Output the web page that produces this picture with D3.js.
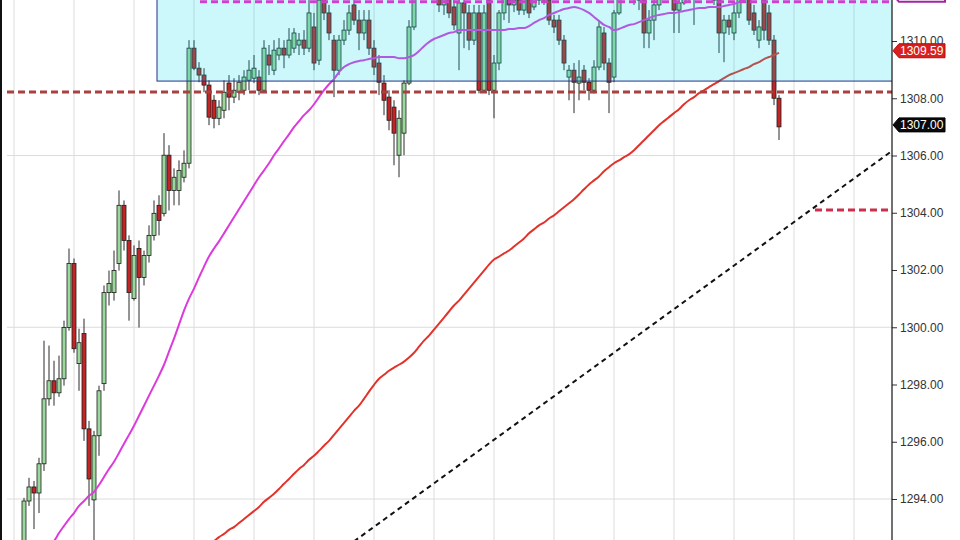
<!DOCTYPE html>
<html><head><meta charset="utf-8">
<script src="https://cdn.jsdelivr.net/npm/d3@7/dist/d3.min.js"></script>
<style>html,body{margin:0;padding:0;background:#fff;overflow:hidden}svg{display:block}</style>
</head><body>
<svg id="chart" width="960" height="540"></svg>
<script>
// ---------- data (prices) ----------
const firstBar = 2;
const open = [
1292.36,1293.93,1294.42,1294.21,1295.23,1297.50,1298.13,1297.71,1298.20,1299.99,
1302.23,1298.73,1299.78,1296.45,1293.97,1296.21,1298.03,1301.21,1301.21,1302.23,
1304.26,1303.03,1301.00,1302.75,1301.74,1302.51,1303.21,1304.26,1303.98,1306.01,
1304.78,1304.78,1305.24,1305.73,1309.75,1309.05,1308.81,1308.46,1307.93,1307.30,
1307.58,1308.53,1308.04,1308.21,1308.28,1308.63,1308.70,1308.74,1308.28,1309.51,
1308.98,1309.51,1309.75,1309.51,1309.75,1309.86,1310.03,1309.75,1310.49,1309.33,
1311.61,1310.98,1310.03,1308.98,1310.03,1310.38,1311.26,1310.73,1310.28,1310.73,
1309.75,1309.23,1308.53,1308.04,1307.69,1306.01,1306.78,1308.53,1310.49,1311.78,
1312.48,1312.13,1312.66,1311.61,1311.26,1311.61,1311.19,1310.28,1311.33,1310.98,
1310.03,1310.98,1308.28,1311.43,1308.28,1309.23,1310.98,1311.61,1311.26,1311.43,
1311.08,1311.61,1311.19,1311.43,1311.96,1311.43,1310.73,1310.73,1310.03,1308.74,
1308.98,1308.53,1308.98,1308.56,1308.28,1309.09,1310.28,1309.23,1308.74,1310.98,
1311.78,1311.61,1312.13,1311.61,1311.43,1310.28,1310.73,1311.26,1311.78,1311.61,
1311.61,1311.08,1311.33,1311.78,1311.61,1311.96,1311.71,1312.13,1311.78,1311.43,
1310.28,1310.73,1310.28,1310.98,1311.54,1311.61,1310.98,1310.03,1311.43,1310.98,
1310.03,1308.00];
const high = [
1294.04,1294.74,1294.63,1295.44,1299.53,1299.36,1298.83,1299.01,1300.23,1302.75,
1302.40,1299.95,1300.30,1296.73,1296.38,1297.96,1301.46,1301.98,1302.68,1304.78,
1304.43,1303.21,1302.86,1303.03,1302.68,1303.56,1304.43,1304.61,1306.78,1306.36,
1305.55,1305.83,1306.18,1310.03,1310.03,1309.26,1309.05,1308.63,1308.11,1307.93,
1308.63,1308.81,1308.70,1308.81,1308.98,1309.33,1309.51,1308.98,1310.03,1309.86,
1310.03,1310.10,1310.03,1310.45,1310.45,1310.28,1310.38,1311.43,1310.98,1311.78,
1311.96,1311.26,1310.21,1310.21,1310.73,1311.26,1311.61,1311.08,1311.08,1311.08,
1310.03,1309.51,1308.81,1308.28,1307.93,1307.58,1308.63,1310.73,1312.13,1312.83,
1312.83,1313.01,1312.83,1311.96,1311.96,1311.78,1311.43,1311.61,1311.61,1311.26,
1311.26,1311.26,1311.26,1311.61,1309.51,1311.08,1311.78,1311.96,1311.78,1311.78,
1311.96,1311.78,1311.78,1312.31,1312.31,1311.78,1310.91,1310.91,1310.21,1309.16,
1309.23,1309.33,1309.16,1308.70,1309.33,1310.73,1310.49,1309.40,1311.08,1312.13,
1312.31,1312.48,1312.48,1311.96,1311.61,1311.08,1311.43,1312.13,1312.13,1312.31,
1311.96,1311.61,1311.96,1312.13,1312.31,1312.31,1312.48,1312.48,1311.96,1311.78,
1310.91,1310.91,1311.26,1311.96,1312.31,1311.96,1311.26,1310.73,1311.78,1311.26,
1310.21,1308.11];
const low = [
1292.18,1293.76,1292.95,1293.51,1294.98,1297.26,1297.26,1297.57,1297.96,1299.88,
1299.11,1297.78,1296.03,1293.76,1292.36,1295.51,1297.78,1300.76,1300.93,1301.98,
1302.68,1300.23,1300.93,1299.99,1301.46,1302.26,1303.03,1303.21,1303.87,1304.08,
1304.26,1304.26,1305.06,1305.55,1308.98,1308.56,1308.21,1307.06,1306.95,1307.06,
1307.30,1307.58,1307.83,1307.93,1308.11,1308.28,1308.53,1308.11,1308.21,1308.81,
1308.81,1309.33,1309.05,1309.40,1309.58,1309.51,1309.51,1309.61,1308.98,1309.16,
1310.73,1310.03,1308.04,1308.81,1309.86,1310.21,1310.56,1309.68,1310.03,1309.51,
1308.81,1308.11,1307.41,1306.88,1305.66,1305.24,1306.01,1308.46,1310.38,1311.61,
1311.78,1311.96,1311.43,1311.01,1310.91,1310.80,1310.38,1308.98,1309.75,1309.68,
1309.86,1308.17,1308.21,1308.11,1307.30,1308.98,1310.73,1310.63,1311.01,1310.91,
1310.91,1310.80,1311.08,1311.26,1311.26,1310.56,1310.28,1309.86,1308.98,1307.93,
1307.48,1307.93,1308.28,1307.93,1308.17,1308.98,1308.98,1307.48,1308.56,1310.91,
1311.43,1311.43,1311.26,1311.08,1309.75,1309.75,1310.03,1311.08,1311.43,1311.43,
1310.28,1310.28,1311.26,1311.33,1310.56,1311.54,1311.54,1311.61,1311.26,1309.58,
1309.26,1310.21,1310.03,1310.80,1311.43,1310.56,1310.21,1309.75,1310.03,1309.86,
1307.76,1306.54];
const close = [
1293.93,1294.42,1294.21,1295.23,1297.50,1298.13,1297.71,1298.20,1299.99,1302.23,
1299.25,1299.46,1296.45,1294.70,1296.21,1297.78,1301.21,1301.53,1301.98,1304.26,
1303.03,1301.21,1302.51,1301.74,1302.51,1303.21,1303.98,1303.73,1306.01,1304.78,
1305.24,1305.48,1305.73,1309.75,1309.05,1308.81,1308.46,1307.34,1307.30,1307.69,
1308.21,1308.04,1308.28,1308.56,1308.74,1308.98,1309.05,1308.28,1309.75,1309.16,
1309.68,1309.75,1309.51,1310.03,1310.28,1310.03,1309.75,1310.98,1309.23,1311.43,
1310.98,1310.28,1308.98,1310.03,1310.38,1310.98,1310.73,1310.28,1310.73,1309.75,
1309.09,1308.56,1307.93,1307.23,1306.78,1307.30,1308.53,1310.49,1311.78,1312.48,
1312.13,1312.66,1311.61,1311.26,1311.61,1310.98,1310.56,1311.33,1310.98,1310.03,
1310.98,1308.28,1310.98,1308.28,1309.23,1310.98,1311.61,1311.26,1311.43,1311.08,
1311.61,1310.98,1311.61,1311.96,1311.43,1310.73,1310.49,1310.03,1309.23,1308.98,
1308.56,1308.74,1308.56,1308.28,1309.09,1310.49,1309.23,1308.56,1310.98,1311.78,
1311.61,1312.13,1311.61,1311.43,1310.28,1310.73,1311.26,1311.78,1311.61,1311.96,
1311.08,1311.33,1311.78,1311.61,1311.96,1311.71,1312.13,1311.78,1311.43,1310.28,
1310.73,1310.49,1310.98,1311.61,1311.96,1310.73,1310.38,1310.49,1310.38,1310.03,
1308.00,1307.00];

const maFastStart = 7;
const maFast = [
1292.36,1292.53,1292.81,1293.06,1293.30,1293.51,1293.76,1293.93,1294.11,1294.25,
1294.49,1294.77,1295.05,1295.30,1295.61,1295.93,1296.24,1296.56,1296.91,1297.26,
1297.61,1297.96,1298.31,1298.69,1299.15,1299.60,1300.09,1300.58,1301.00,1301.35,
1301.74,1302.12,1302.47,1302.75,1303.00,1303.28,1303.56,1303.84,1304.12,1304.40,
1304.68,1304.96,1305.24,1305.48,1305.73,1306.01,1306.25,1306.50,1306.74,1306.99,
1307.20,1307.41,1307.58,1307.79,1308.04,1308.28,1308.49,1308.67,1308.91,1309.09,
1309.19,1309.26,1309.30,1309.33,1309.37,1309.40,1309.44,1309.44,1309.44,1309.44,
1309.40,1309.40,1309.44,1309.51,1309.65,1309.82,1309.96,1310.07,1310.14,1310.21,
1310.28,1310.31,1310.38,1310.38,1310.38,1310.38,1310.38,1310.38,1310.38,1310.38,
1310.38,1310.38,1310.42,1310.42,1310.45,1310.45,1310.52,1310.63,1310.73,1310.80,
1310.91,1310.98,1311.05,1311.12,1311.15,1311.19,1311.15,1311.08,1310.98,1310.84,
1310.70,1310.56,1310.49,1310.38,1310.42,1310.49,1310.56,1310.59,1310.66,1310.73,
1310.80,1310.87,1310.91,1310.94,1310.98,1310.98,1311.01,1311.05,1311.08,1311.12,
1311.15,1311.15,1311.19,1311.19,1311.19,1311.22,1311.26,1311.29,1311.36,1311.43,
1311.54,1311.64,1311.71,1311.78,1311.85,1311.92,1311.99];

const maSlowStart = 39;
const maSlow = [
1292.43,1292.53,1292.67,1292.78,1292.92,1293.02,1293.16,1293.30,1293.44,1293.58,
1293.72,1293.90,1294.04,1294.18,1294.35,1294.53,1294.70,1294.88,1295.05,1295.19,
1295.37,1295.51,1295.68,1295.86,1296.03,1296.24,1296.45,1296.66,1296.87,1297.08,
1297.26,1297.50,1297.75,1297.99,1298.20,1298.34,1298.48,1298.59,1298.69,1298.80,
1298.94,1299.11,1299.32,1299.53,1299.71,1299.92,1300.13,1300.34,1300.55,1300.76,
1300.93,1301.14,1301.35,1301.56,1301.77,1301.98,1302.19,1302.37,1302.47,1302.58,
1302.68,1302.82,1302.96,1303.10,1303.28,1303.42,1303.56,1303.66,1303.80,1303.91,
1304.05,1304.19,1304.33,1304.47,1304.64,1304.82,1304.99,1305.13,1305.27,1305.45,
1305.59,1305.73,1305.83,1305.94,1306.04,1306.18,1306.36,1306.53,1306.71,1306.88,
1307.06,1307.20,1307.34,1307.48,1307.62,1307.79,1307.93,1308.04,1308.18,1308.28,
1308.39,1308.49,1308.60,1308.70,1308.81,1308.88,1308.95,1309.02,1309.09,1309.19,
1309.26,1309.37,1309.44,1309.51,1309.59];

const yTicks = [1294,1296,1298,1300,1302,1304,1306,1308,1310];
const gridPrices = [1294,1300,1306];
const gridBars = [0,12,24,36,48,60,72,84,96,108,120,132,144,156,168];

const zoneBars = [28.6, 180];
const zonePrices = [1308.60, 1313.5];
const levelPrices = [1311.37, 1308.22, 1304.10];
const levelStartBars = [37.2, -1.4, 160.2];
const levelColors = ["#cf3fcf", "#a8413f", "#cc2f4a"];
const trendBars = [68, 175.6];
const trendPrices = [1292.52, 1306.16];
const lastClose = 1307.00;
const lastMA = 1309.59;

// ---------- layout ----------
const W = 960, H = 540, axisX = 892;
const svg = d3.select("#chart");
const x = d3.scaleLinear().domain([0, 12]).range([14, 74]);
const y = d3.scaleLinear().domain([1294, 1310]).range([499, 41]);

svg.append("defs").append("clipPath").attr("id", "plot")
  .append("rect").attr("x", 0).attr("y", 0).attr("width", axisX).attr("height", H);

const plot = svg.append("g").attr("clip-path", "url(#plot)");

// grid
plot.selectAll(".vg").data(gridBars).join("line")
  .attr("x1", d => x(d)).attr("x2", d => x(d)).attr("y1", 0).attr("y2", H)
  .attr("stroke", "#dcdcdc").attr("stroke-width", 1);
plot.selectAll(".hg").data(gridPrices).join("line")
  .attr("x1", 7).attr("x2", axisX).attr("y1", d => y(d)).attr("y2", d => y(d))
  .attr("stroke", "#dcdcdc").attr("stroke-width", 1);

// trend line
plot.append("line")
  .attr("x1", x(trendBars[0])).attr("y1", y(trendPrices[0]))
  .attr("x2", x(trendBars[1])).attr("y2", y(trendPrices[1]))
  .attr("stroke", "#111").attr("stroke-width", 2).attr("stroke-dasharray", "5,4");

// candles
const bars = close.map((c, i) => ({k: firstBar + i, o: open[i], h: high[i], l: low[i], c}));
const cg = plot.append("g");
cg.selectAll(".wick").data(bars).join("line")
  .attr("x1", d => x(d.k)).attr("x2", d => x(d.k))
  .attr("y1", d => y(d.h)).attr("y2", d => y(d.l))
  .attr("stroke", "#2a2a2a").attr("stroke-width", 1);
const bw = 4;
cg.selectAll(".body").data(bars).join("rect")
  .attr("x", d => x(d.k) - bw / 2)
  .attr("y", d => y(Math.max(d.o, d.c)))
  .attr("width", bw)
  .attr("height", d => Math.max(1, Math.abs(y(d.o) - y(d.c))))
  .attr("fill", d => d.c >= d.o ? "#9bd89b" : "#c42424")
  .attr("stroke", "#1e1e1e").attr("stroke-width", 0.8);

// moving averages
const line = d3.line().x(d => x(d[0])).y(d => y(d[1])).curve(d3.curveMonotoneX);
plot.append("path").datum(maSlow.map((v, i) => [maSlowStart + i, v]))
  .attr("d", line).attr("fill", "none").attr("stroke", "#e2332a").attr("stroke-width", 2);
plot.append("path").datum(maFast.map((v, i) => [maFastStart + i, v]))
  .attr("d", line).attr("fill", "none").attr("stroke", "#dc3bdc").attr("stroke-width", 2);

// zone overlay
plot.append("rect")
  .attr("x", x(zoneBars[0])).attr("y", y(zonePrices[1]))
  .attr("width", x(zoneBars[1]) - x(zoneBars[0]))
  .attr("height", y(zonePrices[0]) - y(zonePrices[1]))
  .attr("fill", "rgb(0,218,236)").attr("fill-opacity", 0.2)
  .attr("stroke", "#2b2f86").attr("stroke-width", 1);

// level lines
plot.selectAll(".lvl").data(levelPrices).join("line")
  .attr("x1", (d, i) => x(levelStartBars[i])).attr("x2", axisX)
  .attr("y1", d => y(d)).attr("y2", d => y(d))
  .attr("stroke", (d, i) => levelColors[i]).attr("stroke-width", 3)
  .attr("stroke-dasharray", "7,4");

// left border
svg.append("line").attr("x1", 1).attr("x2", 1).attr("y1", 0).attr("y2", H)
  .attr("stroke", "#111").attr("stroke-width", 2);

// right axis
const axis = svg.append("g").attr("transform", `translate(${axisX},0)`)
  .call(d3.axisRight(y).tickValues(yTicks).tickFormat(d3.format(".2f")).tickSize(5).tickPadding(3));
axis.select(".domain").remove();
axis.selectAll("line").attr("stroke", "#333");
axis.selectAll("text").attr("font-family", "'Liberation Sans', Arial, sans-serif")
  .attr("font-size", 12).attr("fill", "#333");
svg.append("line").attr("x1", axisX).attr("x2", axisX).attr("y1", 0).attr("y2", H)
  .attr("stroke", "#111").attr("stroke-width", 1.2);

// price tags
function tag(yc, fill, stroke, sw, textColor, label) {
  const g = svg.append("g");
  g.append("path")
    .attr("d", `M${axisX + 1},${yc} L${axisX + 7},${yc - 7} L${axisX + 53},${yc - 7} L${axisX + 53},${yc + 7} L${axisX + 7},${yc + 7} Z`)
    .attr("fill", fill).attr("stroke", stroke).attr("stroke-width", sw);
  if (label) g.append("text").attr("x", axisX + 8).attr("y", yc + 4.5)
    .attr("font-family", "'Liberation Sans', Arial, sans-serif").attr("font-size", 12)
    .attr("fill", textColor).text(label);
}
// magenta level tag: only its lower edge is inside the frame
tag(y(levelPrices[0]) - 7, "#ffffff", "#a226a2", 2, null, null);
tag(y(lastMA) - 2, "#d8201e", "#b01010", 1, "#ffffff", d3.format(".2f")(lastMA));
tag(y(lastClose) - 2, "#0a0a0a", "#000", 1, "#ffffff", d3.format(".2f")(lastClose));
</script>
</body></html>
